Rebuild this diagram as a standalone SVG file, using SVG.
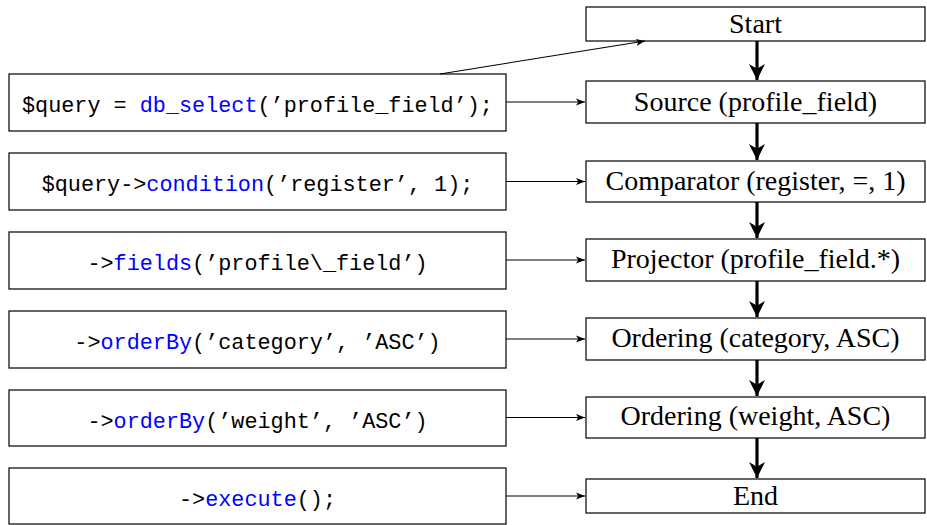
<svg xmlns="http://www.w3.org/2000/svg" width="927" height="525" viewBox="0 0 927 525">
<style>
.box{fill:#fff;stroke:#000;stroke-width:1.2}
.code{font-family:"Liberation Mono","DejaVu Sans Mono",monospace;font-size:21.8px;fill:#000;text-anchor:middle}
.kw{fill:#0000ff}
.lbl{font-family:"Liberation Serif","Times New Roman",serif;font-size:28px;fill:#000;text-anchor:middle}
.thin{stroke:#000;stroke-width:1.1;fill:none}
.thick{stroke:#000;stroke-width:3.2;fill:none}
</style>
<defs>
<marker id="ah" viewBox="0 0 10 10" refX="10" refY="5" markerWidth="9" markerHeight="9" markerUnits="userSpaceOnUse" orient="auto">
<path d="M0,1 L10,5 L0,9 L2.5,5 Z" fill="#000"/>
</marker>
<marker id="ahb" viewBox="0 0 10 10" refX="10" refY="5" markerWidth="5" markerHeight="5" orient="auto">
<path d="M0,0 L10,5 L0,10 L3,5 Z" fill="#000"/>
</marker>
</defs>
<g id="n-start"><rect class="box" x="586" y="7" width="339" height="34"/><text class="lbl" x="755.5" y="33">Start</text></g>
<g id="n-source"><rect class="box" x="586" y="81" width="339" height="42"/><text class="lbl" x="755.5" y="111">Source (profile_field)</text></g>
<g id="n-comparator"><rect class="box" x="586" y="161" width="339" height="41"/><text class="lbl" x="755.5" y="190">Comparator (register, =, 1)</text></g>
<g id="n-projector"><rect class="box" x="586" y="239" width="339" height="42"/><text class="lbl" x="755.5" y="268">Projector (profile_field.*)</text></g>
<g id="n-ordering1"><rect class="box" x="586" y="318" width="339" height="42"/><text class="lbl" x="755.5" y="347">Ordering (category, ASC)</text></g>
<g id="n-ordering2"><rect class="box" x="586" y="397" width="339" height="41"/><text class="lbl" x="755.5" y="425">Ordering (weight, ASC)</text></g>
<g id="n-end"><rect class="box" x="586" y="479" width="339" height="34"/><text class="lbl" x="755.5" y="505">End</text></g>
<g id="c-1"><rect class="box" x="9" y="74" width="497" height="57"/><text class="code" x="257.5" y="112">$query = <tspan class="kw">db_select</tspan>(’profile_field’);</text></g>
<g id="c-2"><rect class="box" x="9" y="153" width="497" height="57"/><text class="code" x="257.5" y="191">$query-&gt;<tspan class="kw">condition</tspan>(’register’, 1);</text></g>
<g id="c-3"><rect class="box" x="9" y="232" width="497" height="57"/><text class="code" x="257.5" y="270">-&gt;<tspan class="kw">fields</tspan>(’profile\_field’)</text></g>
<g id="c-4"><rect class="box" x="9" y="311" width="497" height="57"/><text class="code" x="257.5" y="349">-&gt;<tspan class="kw">orderBy</tspan>(’category’, ’ASC’)</text></g>
<g id="c-5"><rect class="box" x="9" y="390" width="497" height="56"/><text class="code" x="257.5" y="428">-&gt;<tspan class="kw">orderBy</tspan>(’weight’, ’ASC’)</text></g>
<g id="c-6"><rect class="box" x="9" y="468" width="497" height="56"/><text class="code" x="257.5" y="506">-&gt;<tspan class="kw">execute</tspan>();</text></g>
<g id="connectors">
<line class="thin" x1="440" y1="74" x2="645" y2="41" marker-end="url(#ah)"/>
<line class="thin" x1="506" y1="102" x2="585" y2="102" marker-end="url(#ah)"/>
<line class="thin" x1="506" y1="181.5" x2="585" y2="181.5" marker-end="url(#ah)"/>
<line class="thin" x1="506" y1="260" x2="585" y2="260" marker-end="url(#ah)"/>
<line class="thin" x1="506" y1="339" x2="585" y2="339" marker-end="url(#ah)"/>
<line class="thin" x1="506" y1="417.5" x2="585" y2="417.5" marker-end="url(#ah)"/>
<line class="thin" x1="506" y1="496" x2="585" y2="496" marker-end="url(#ah)"/>
<line class="thick" x1="757" y1="41" x2="757" y2="80" marker-end="url(#ahb)"/>
<line class="thick" x1="757" y1="123" x2="757" y2="160" marker-end="url(#ahb)"/>
<line class="thick" x1="757" y1="202" x2="757" y2="238" marker-end="url(#ahb)"/>
<line class="thick" x1="757" y1="281" x2="757" y2="317" marker-end="url(#ahb)"/>
<line class="thick" x1="757" y1="360" x2="757" y2="396" marker-end="url(#ahb)"/>
<line class="thick" x1="757" y1="438" x2="757" y2="478" marker-end="url(#ahb)"/>
</g>
</svg>
